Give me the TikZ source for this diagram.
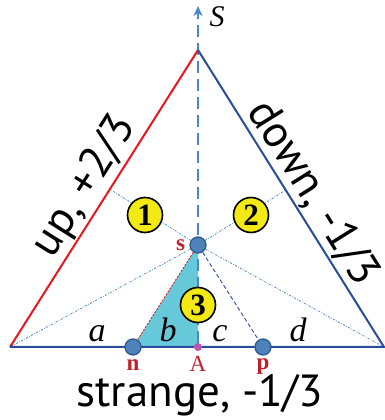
\documentclass[tikz,border=0pt]{standalone}
\usepackage{fontspec}
\setmainfont{Liberation Serif}
\setsansfont{PT Sans}
\usetikzlibrary{arrows.meta,positioning,backgrounds,calc}
\definecolor{upred}{HTML}{E8161E}
\definecolor{dnblue}{HTML}{2B4C9B}
\definecolor{axblue}{HTML}{4A86C8}
\definecolor{dotblue}{HTML}{4F81BD}
\definecolor{dotedge}{HTML}{2C5A8E}
\definecolor{labred}{HTML}{C0202A}
\definecolor{cyanfill}{HTML}{66C9DA}
\definecolor{numyel}{HTML}{F2EA12}
\definecolor{mag}{HTML}{C052B4}

\begin{document}
\begin{tikzpicture}[x=1pt,y=1pt,
 dot/.style={circle,draw=dotedge,fill=dotblue,line width=1.3pt,minimum size=16pt,inner sep=0pt},
 num/.style={circle,draw=black,fill=numyel,line width=1.6pt,minimum size=35pt,inner sep=0pt,font=\fontsize{31}{31}\selectfont\bfseries},
 lab/.style={text=labred,anchor=base,font=\fontsize{23}{23}\selectfont\bfseries,inner sep=0pt},
 seg/.style={anchor=base,font=\fontsize{34}{34}\selectfont\itshape},
 side/.style={text=black,font=\sffamily\fontsize{45}{45}\selectfont,inner sep=1pt},
 thin/.style={axblue,line width=0.8pt,dash pattern=on 2pt off 1.5pt on 0.6pt off 1.5pt}]
\useasboundingbox (0,0) rectangle (385,420);
% corners of the triangle
\coordinate (L) at (10,73);
\coordinate (R) at (384,73);
\coordinate (T) at (198,370);
\coordinate (top) at (198,414);
% quark points
\node[dot] (s) at (198,175) {};
\node[dot] (n) at (133,73) {};
\node[dot] (p) at (263,73) {};
\node[circle,fill=mag,minimum size=8pt,inner sep=0pt] (A) at (198,73) {};
\coordinate (mL) at ($(L)!(s)!(T)$);
\coordinate (mR) at ($(R)!(s)!(T)$);
\node[lab,anchor=east,left=4pt of s] (slab) {s};
\node[lab] (nlab) at (133,49) {n};
\node[lab,font=\fontsize{23}{23}\selectfont] (Alab) at (198,48) {A};
\node[lab] (plab) at (263,50) {p};
% regions
\node[num] (one) at (145,205) {1};
\node[num] (two) at (251,205) {2};
\node[num] (three) at (198,115) {3};
% segments
\node[seg] (a) at (97,78) {a};
\node[seg] (b) at (168,78) {b};
\node[seg] (c) at (220,78) {c};
\node[seg] (d) at (298,78) {d};
\node[font=\fontsize{30}{30}\selectfont\itshape] (S) at (217,403) {S};
\node[side,anchor=base] (str) at (200,13) {strange, -1/3};
\begin{scope}[on background layer]
\fill[cyanfill] (s.center) -- (n.center) -- (A.center) -- cycle;
\draw[thin] (s) -- (L);
\draw[thin] (s) -- (R);
\draw[thin] (s) -- (mL);
\draw[thin] (s) -- (mR);
\draw[dnblue,line width=0.9pt,dash pattern=on 4pt off 2.5pt] (s) -- (p);
\draw[upred,line width=0.9pt,dash pattern=on 2pt off 1.5pt] (s) -- (n);
\draw[axblue,line width=1.4pt,dash pattern=on 12pt off 6pt,-{Stealth[length=10pt,width=9pt,inset=3pt]}] (A) -- (top);
\draw[upred,line width=2pt] (L) -- node[side,sloped,above] (up) {up, +2/3} (T);
\draw[dnblue,line width=2pt] (T) -- node[side,sloped,above,pos=0.52] (down) {down, -1/3} (R) -- (L);
\end{scope}
\end{tikzpicture}
\end{document}
